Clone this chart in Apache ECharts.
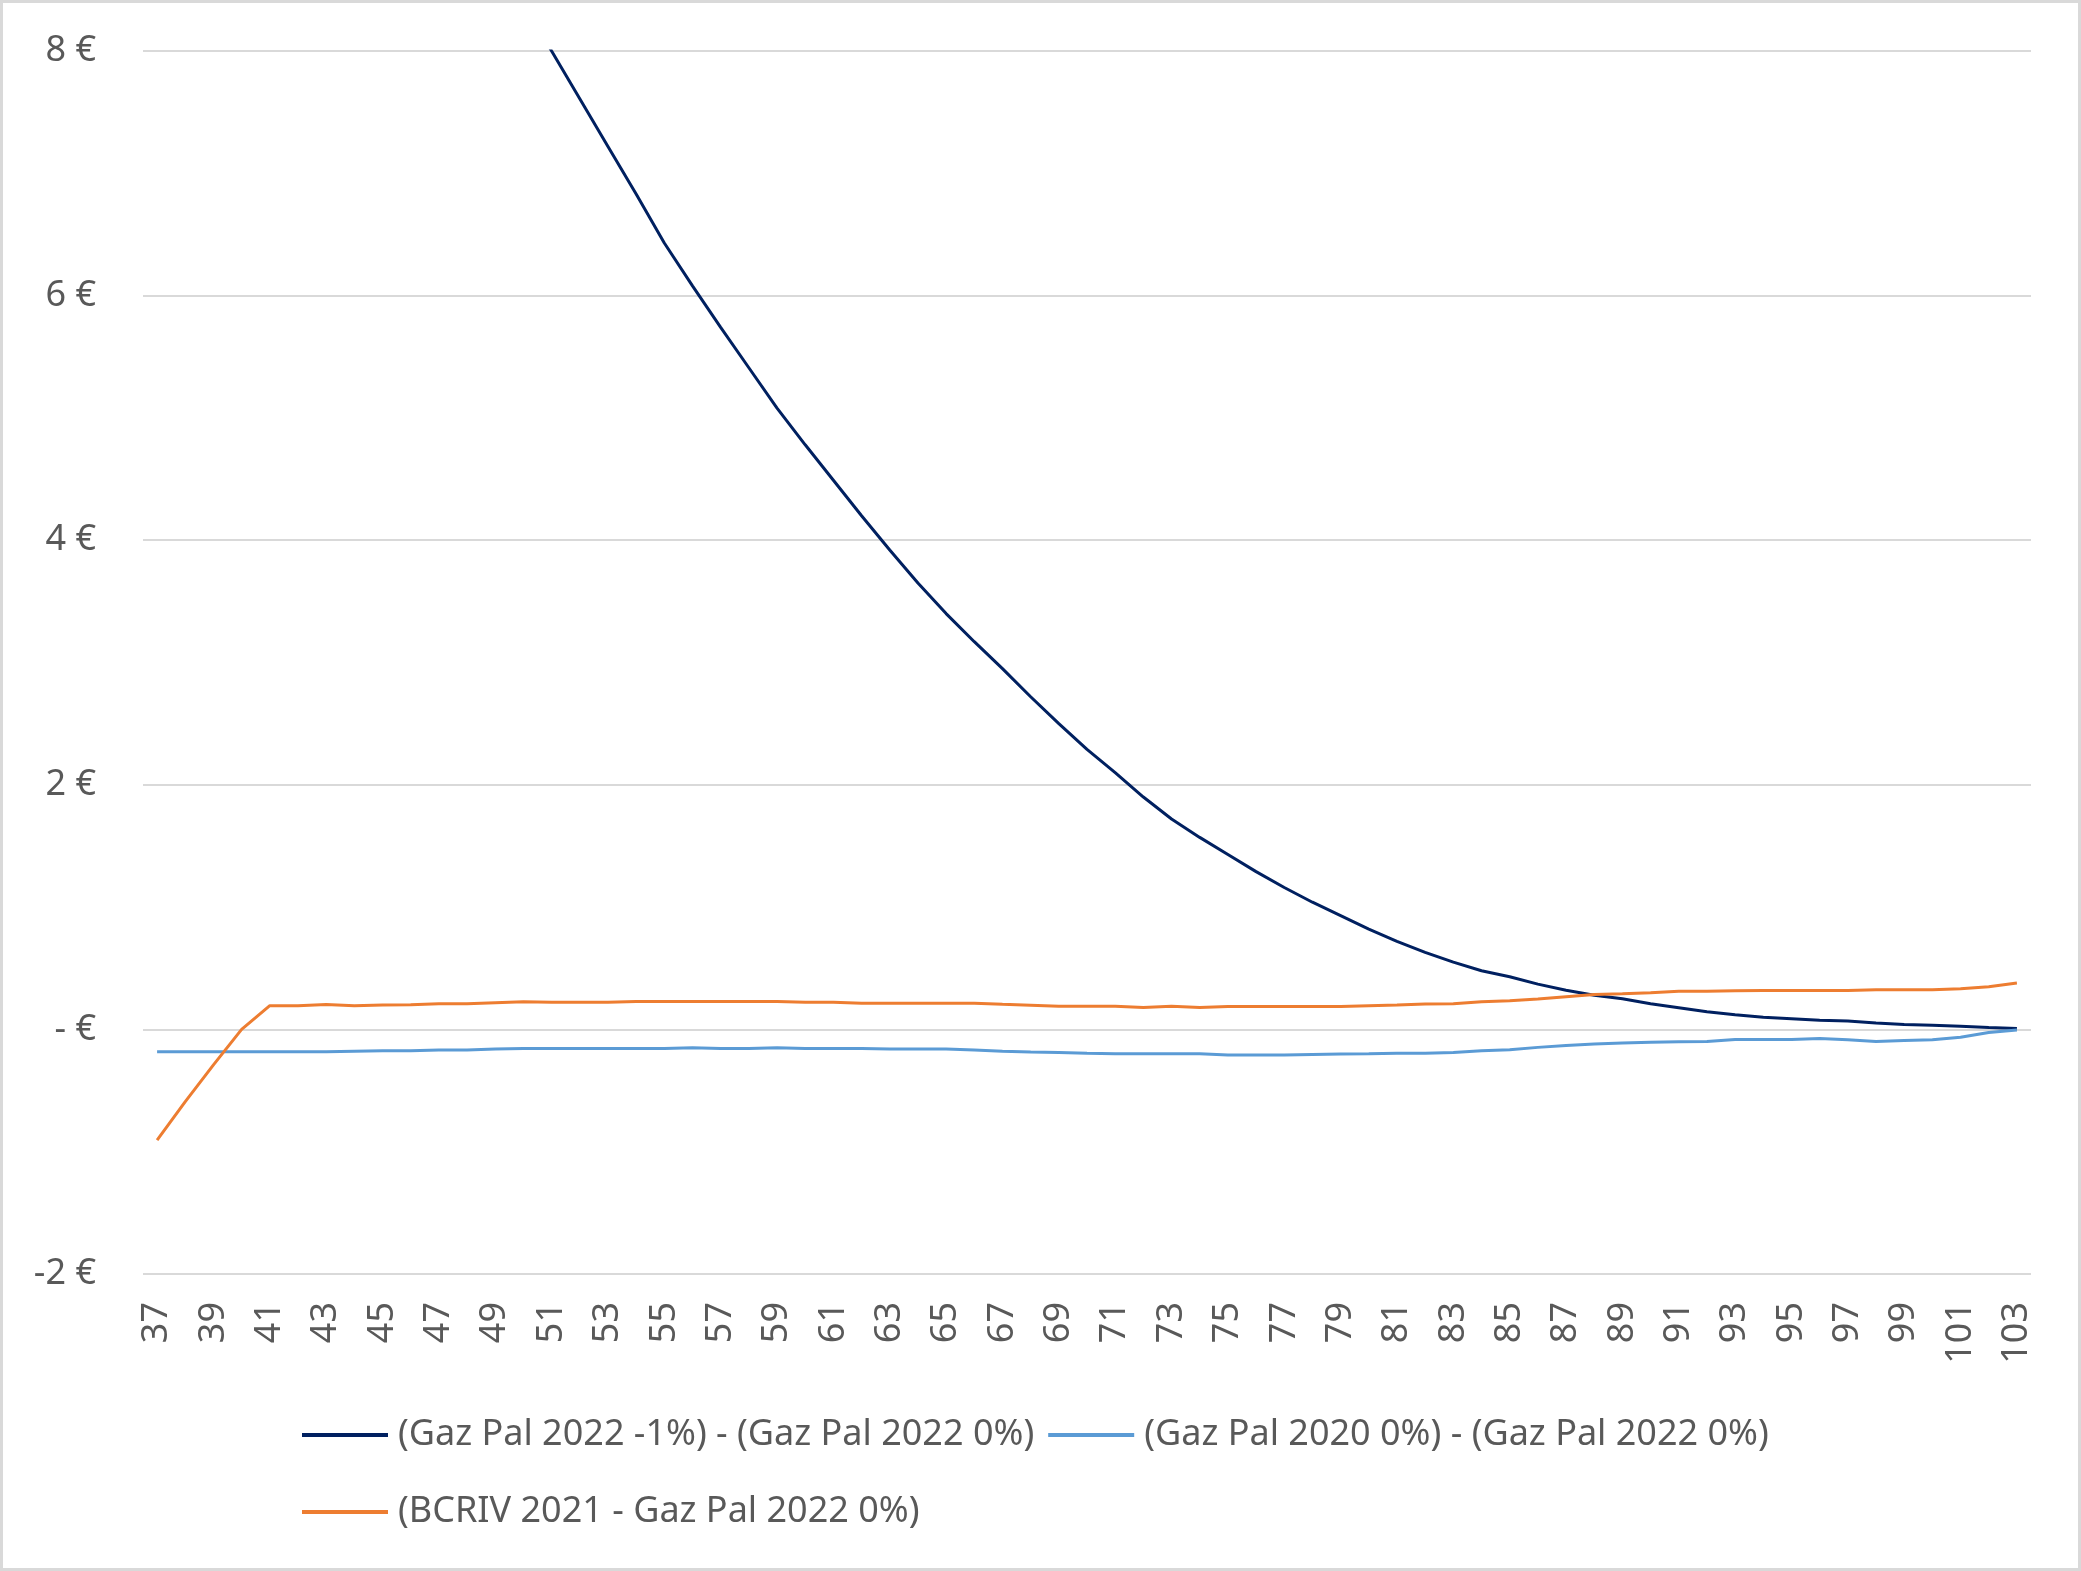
<!DOCTYPE html>
<html>
<head>
<meta charset="utf-8">
<script src="https://cdn.jsdelivr.net/npm/echarts@6/dist/echarts.min.js"></script>
<style>
  html, body { margin: 0; padding: 0; background: #fff; }
  #chart { position: absolute; left: 0; top: 0; width: 2081px; height: 1571px; }
  #frame {
    position: absolute; left: 0; top: 0; width: 2081px; height: 1571px;
    box-sizing: border-box; border: 3px solid #d9d9d9; pointer-events: none;
  }
</style>
</head>
<body>
<div id="chart"></div>
<div id="frame"></div>
<script>
const ages = [
  '37', '38', '39', '40', '41', '42', '43', '44', '45', '46', '47', '48', '49', '50',
  '51', '52', '53', '54', '55', '56', '57', '58', '59', '60', '61', '62', '63', '64',
  '65', '66', '67', '68', '69', '70', '71', '72', '73', '74', '75', '76', '77', '78',
  '79', '80', '81', '82', '83', '84', '85', '86', '87', '88', '89', '90', '91', '92',
  '93', '94', '95', '96', '97', '98', '99', '100', '101', '102', '103'
]

const seriesNames = [
  '(Gaz Pal 2022 -1%) - (Gaz Pal 2022 0%)',
  '(Gaz Pal 2020 0%) - (Gaz Pal 2022 0%)',
  '(BCRIV 2021 - Gaz Pal 2022 0%)'
]

// values before 51 sit above the 8 € line and are clipped in the picture
const gazPal2022Minus1 = [
  13.8, 13.4, 13.0, 12.5, 12.1, 11.7, 11.3, 10.8, 10.4, 10.0, 9.6, 9.2, 8.8, 8.4,
  8.00, 7.61, 7.22, 6.83, 6.43, 6.08, 5.74, 5.41, 5.08, 4.78, 4.49, 4.20, 3.92, 3.65,
  3.40, 3.17, 2.95, 2.72, 2.50, 2.29, 2.10, 1.90, 1.72, 1.57, 1.43, 1.29, 1.16, 1.04,
  0.93, 0.82, 0.72, 0.63, 0.55, 0.48, 0.43, 0.37, 0.32, 0.28, 0.25, 0.21, 0.177, 0.144,
  0.12, 0.10, 0.087, 0.074, 0.068, 0.052, 0.041, 0.033, 0.025, 0.016, 0.008
]

const gazPal2020 = [
  -0.183, -0.183, -0.183, -0.183, -0.183, -0.183, -0.183, -0.178, -0.174, -0.174, -0.168, -0.168, -0.16, -0.157,
  -0.157, -0.157, -0.157, -0.157, -0.157, -0.15, -0.157, -0.157, -0.15, -0.157, -0.157, -0.157, -0.16, -0.161,
  -0.161, -0.169, -0.178, -0.185, -0.188, -0.194, -0.199, -0.199, -0.199, -0.2, -0.21, -0.21, -0.21, -0.206,
  -0.202, -0.2, -0.196, -0.194, -0.188, -0.174, -0.166, -0.147, -0.131, -0.12, -0.112, -0.106, -0.101, -0.098,
  -0.082, -0.082, -0.082, -0.074, -0.084, -0.098, -0.09, -0.085, -0.065, -0.025, -0.005
]

const bcriv2021 = [
  -0.905, -0.59, -0.29, 0.0, 0.194, 0.194, 0.204, 0.194, 0.2, 0.202, 0.21, 0.21, 0.218, 0.226,
  0.221, 0.221, 0.221, 0.229, 0.229, 0.229, 0.229, 0.229, 0.229, 0.221, 0.221, 0.213, 0.213, 0.213,
  0.213, 0.213, 0.205, 0.198, 0.19, 0.19, 0.19, 0.18, 0.19, 0.18, 0.188, 0.188, 0.188, 0.188,
  0.188, 0.194, 0.2, 0.207, 0.21, 0.226, 0.234, 0.248, 0.267, 0.286, 0.292, 0.3, 0.311, 0.311,
  0.316, 0.319, 0.319, 0.319, 0.319, 0.324, 0.324, 0.324, 0.333, 0.349, 0.379
]

const colors = ['#002060', '#5b9bd5', '#ed7d31']
const font = '"Noto Sans", "Open Sans", sans-serif'
const textColor = '#595959'

const legendText = {
  color: textColor,
  fontFamily: font,
  fontSize: 36,
  lineHeight: 40,
  padding: [0, 0, 0, 5]
}

const myChart = echarts.init(document.getElementById('chart'))

myChart.setOption({
  animation: false,
  color: colors,
  grid: {
    left: 143,
    right: 50,
    top: 51,
    bottom: 297,
    containLabel: false
  },
  legend: [
    {
      data: [seriesNames[0], seriesNames[1]],
      left: 297,
      top: 1410,
      icon: 'rect',
      itemWidth: 86,
      itemHeight: 4,
      itemGap: 14,
      textStyle: legendText
    },
    {
      data: [seriesNames[2]],
      left: 297,
      top: 1487,
      icon: 'rect',
      itemWidth: 86,
      itemHeight: 4,
      textStyle: legendText
    }
  ],
  xAxis: {
    type: 'category',
    data: ages,
    boundaryGap: true,
    axisLine: { show: false },
    axisTick: { show: false },
    axisLabel: {
      interval: 1,
      rotate: 90,
      margin: 28,
      color: textColor,
      fontFamily: font,
      fontSize: 36
    }
  },
  yAxis: {
    type: 'value',
    min: -2,
    max: 8,
    interval: 2,
    axisLine: { show: false },
    axisTick: { show: false },
    splitLine: { lineStyle: { color: '#d9d9d9', width: 2 } },
    axisLabel: {
      margin: 47,
      color: textColor,
      fontFamily: font,
      fontSize: 36,
      formatter: (v) => (v === 0 ? '- €' : v + ' €')
    }
  },
  series: [
    {
      name: seriesNames[0],
      type: 'line',
      data: gazPal2022Minus1,
      symbol: 'none',
      clip: true,
      lineStyle: { width: 3 }
    },
    {
      name: seriesNames[1],
      type: 'line',
      data: gazPal2020,
      symbol: 'none',
      clip: true,
      lineStyle: { width: 3 }
    },
    {
      name: seriesNames[2],
      type: 'line',
      data: bcriv2021,
      symbol: 'none',
      clip: true,
      lineStyle: { width: 3 }
    }
  ]
})
</script>
</body>
</html>
